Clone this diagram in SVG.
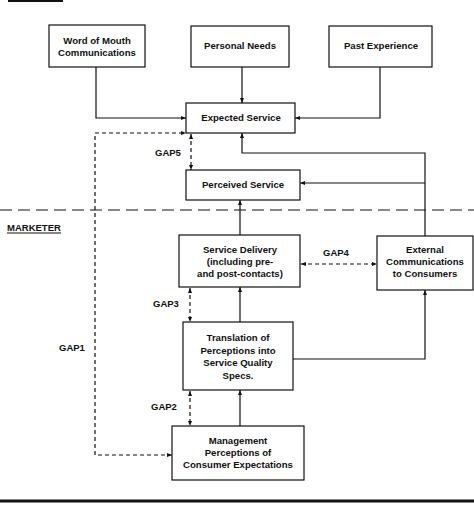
<svg xmlns="http://www.w3.org/2000/svg" width="474" height="505" viewBox="0 0 474 505">
<defs>
<marker id="ah" viewBox="0 0 10 10" refX="10" refY="5" markerWidth="5" markerHeight="5" orient="auto-start-reverse" markerUnits="userSpaceOnUse">
<path d="M0,1 L10,5 L0,9 z" fill="#111"/>
</marker>
<style>
.box{fill:#fff;stroke:#111;stroke-width:1.2}
.t{font-family:"Liberation Sans",Arial,sans-serif;font-weight:bold;font-size:9.6px;fill:#111;text-anchor:middle}
.lbl{font-family:"Liberation Sans",Arial,sans-serif;font-weight:bold;font-size:9.5px;fill:#111}
.c{fill:none;stroke:#111;stroke-width:1.2}
.d{fill:none;stroke:#111;stroke-width:1.2;stroke-dasharray:4 3}
</style>
</defs>
<rect width="474" height="505" fill="#fff"/>
<line x1="8" y1="1" x2="63" y2="1" stroke="#111" stroke-width="2"/>
<line x1="0" y1="210" x2="474" y2="210" stroke="#111" stroke-width="1.2" stroke-dasharray="12 6"/>
<text class="lbl" x="7" y="231">MARKETER</text>
<line x1="7" y1="233" x2="61" y2="233" stroke="#111" stroke-width="1"/>
<line x1="0" y1="501" x2="474" y2="501" stroke="#111" stroke-width="3"/>

<g id="connectors">
<polyline class="c" points="96,67 96,118 186,118" marker-end="url(#ah)"/>
<line class="c" x1="242" y1="67" x2="242" y2="103" marker-end="url(#ah)"/>
<polyline class="c" points="380,67 380,118 295,118" marker-end="url(#ah)"/>
<polyline class="c" points="425,236 425,153 242,153 242,133" marker-end="url(#ah)"/>
<line class="c" x1="425" y1="183" x2="300" y2="183" marker-end="url(#ah)"/>
<line class="c" x1="240" y1="235" x2="240" y2="200" marker-end="url(#ah)"/>
<line class="c" x1="240" y1="322" x2="240" y2="287" marker-end="url(#ah)"/>
<line class="c" x1="240" y1="426" x2="240" y2="390" marker-end="url(#ah)"/>
<polyline class="c" points="293,359 425,359 425,290" marker-end="url(#ah)"/>
<line class="d" x1="191" y1="134" x2="191" y2="170" marker-start="url(#ah)" marker-end="url(#ah)"/>
<line class="d" x1="190" y1="288" x2="190" y2="322" marker-start="url(#ah)" marker-end="url(#ah)"/>
<line class="d" x1="190" y1="391" x2="190" y2="426" marker-start="url(#ah)" marker-end="url(#ah)"/>
<line class="d" x1="301" y1="264" x2="377" y2="264" marker-start="url(#ah)" marker-end="url(#ah)"/>
<polyline class="d" points="172,455 95,455 95,133 186,133" marker-start="url(#ah)" marker-end="url(#ah)"/>
<text class="lbl" x="155" y="156">GAP5</text>
<text class="lbl" x="153" y="307">GAP3</text>
<text class="lbl" x="59" y="351">GAP1</text>
<text class="lbl" x="151" y="410">GAP2</text>
<text class="lbl" x="323" y="256">GAP4</text>
</g>

<g id="word-of-mouth">
<rect class="box" x="49" y="25" width="96" height="42"/>
<text class="t" x="97" y="44">Word of Mouth</text>
<text class="t" x="97" y="56">Communications</text>
</g>
<g id="personal-needs">
<rect class="box" x="191" y="26" width="98" height="41"/>
<text class="t" x="240" y="49">Personal Needs</text>
</g>
<g id="past-experience">
<rect class="box" x="329" y="26" width="103" height="41"/>
<text class="t" x="381" y="49">Past Experience</text>
</g>
<g id="expected-service">
<rect class="box" x="186" y="103" width="109" height="30"/>
<text class="t" x="241" y="121">Expected Service</text>
</g>
<g id="perceived-service">
<rect class="box" x="186" y="170" width="114" height="30"/>
<text class="t" x="243" y="188">Perceived Service</text>
</g>
<g id="service-delivery">
<rect class="box" x="179" y="235" width="121" height="52"/>
<text class="t" x="240" y="253">Service Delivery</text>
<text class="t" x="240" y="265">(including pre-</text>
<text class="t" x="240" y="277">and post-contacts)</text>
</g>
<g id="external-communications">
<rect class="box" x="377" y="236" width="96" height="54"/>
<text class="t" x="425" y="253">External</text>
<text class="t" x="425" y="265">Communications</text>
<text class="t" x="425" y="277">to Consumers</text>
</g>
<g id="translation">
<rect class="box" x="183" y="322" width="110" height="68"/>
<text class="t" x="238" y="341">Translation of</text>
<text class="t" x="238" y="354">Perceptions into</text>
<text class="t" x="238" y="366">Service Quality</text>
<text class="t" x="238" y="379">Specs.</text>
</g>
<g id="management">
<rect class="box" x="172" y="426" width="132" height="54"/>
<text class="t" x="238" y="444">Management</text>
<text class="t" x="238" y="456">Perceptions of</text>
<text class="t" x="238" y="468">Consumer Expectations</text>
</g>
</svg>
